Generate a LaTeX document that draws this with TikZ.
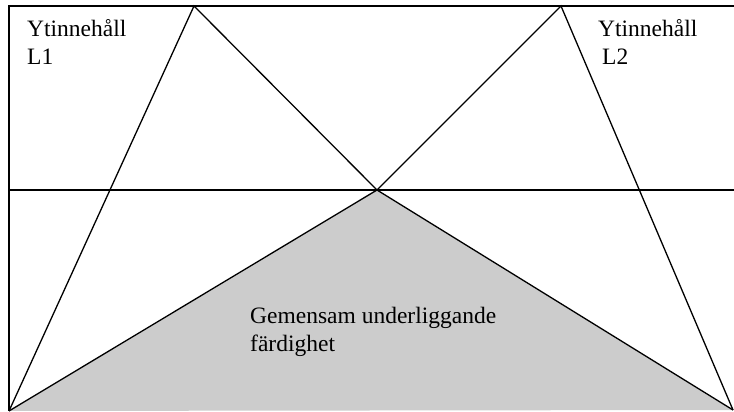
\documentclass[tikz,border=0pt]{standalone}
\usepackage{fontspec}
\setmainfont{Liberation Serif}
\begin{document}
\begin{tikzpicture}[x=1pt,y=1pt]
\tikzset{
  edge/.style={line width=1.3pt, draw=black},
  shade/.style={fill=black!20},
  lbl/.style={font=\fontsize{23.5}{28}\selectfont, inner sep=0pt, align=left, anchor=base west}
}
\useasboundingbox (0,0) rectangle (734,412);
% frame and key points
\coordinate (tl) at (9,406);
\coordinate (tr) at (745,406);
\coordinate (bl) at (9,1);
\coordinate (br) at (733,2);
\coordinate (ml) at (9,222);
\coordinate (mr) at (745,222);
\coordinate (c) at (377,222);
\coordinate (a1) at (194,406);
\coordinate (a2) at (561,406);
% shared underlying skill (grey triangle)
\fill[shade] (bl) -- (c) -- (br) -- cycle;
% frame
\draw[edge] (bl) -- (tl) -- (tr);
\draw[edge] (ml) -- (mr);
% triangles
\draw[edge] (bl) -- (a1) -- (c) -- (a2) -- (br);
\draw[edge] (bl) -- (c) -- (br);
% labels (anchored at the baseline of the last line)
\node[lbl] (t1) at (27,347) {Ytinneh\aa ll\\L1};
\node[lbl] (t2) at (598,347) {Ytinneh\aa ll\\\hspace*{4pt}L2};
\node[lbl] (t3) at (250,60) {Gemensam underliggande\\f\"ardighet};
\end{tikzpicture}
\end{document}
